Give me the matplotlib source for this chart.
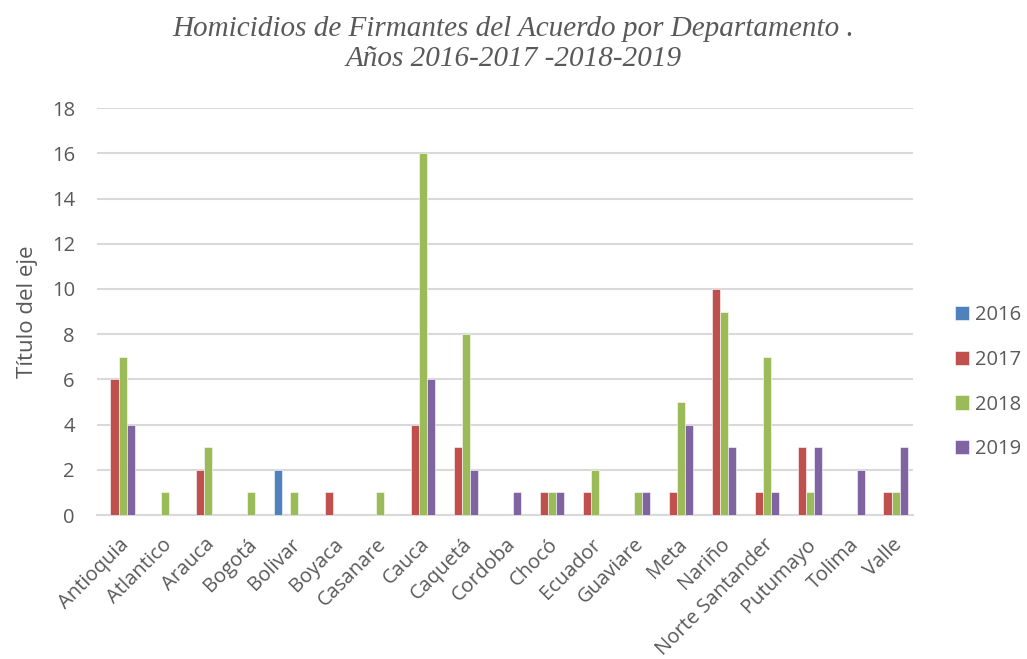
import numpy as np
import matplotlib.pyplot as plt

departamentos = ['Antioquia', 'Atlantico', 'Arauca', 'Bogotá', 'Bolivar', 'Boyaca',
                 'Casanare', 'Cauca', 'Caquetá', 'Cordoba', 'Chocó', 'Ecuador',
                 'Guaviare', 'Meta', 'Nariño', 'Norte Santander', 'Putumayo',
                 'Tolima', 'Valle']
y2016 = [0, 0, 0, 0, 2, 0, 0, 0, 0, 0, 0, 0, 0, 0, 0, 0, 0, 0, 0]
y2017 = [6, 0, 2, 0, 0, 1, 0, 4, 3, 0, 1, 1, 0, 1, 10, 1, 3, 0, 1]
y2018 = [7, 1, 3, 1, 1, 0, 1, 16, 8, 0, 1, 2, 1, 5, 9, 7, 1, 0, 1]
y2019 = [4, 0, 0, 0, 0, 0, 0, 6, 2, 1, 1, 0, 1, 4, 3, 1, 3, 2, 3]
anios = ['2016', '2017', '2018', '2019']
colores = ['#4F81BD', '#C0504D', '#9BBB59', '#8064A2']

plt.rcParams['font.family'] = ['Open Sans', 'DejaVu Sans']

fig = plt.figure(figsize=(10.27, 6.59), dpi=100)
ax = fig.add_axes([0.0945, 0.2185, 0.7945, 0.6175])

x = np.arange(len(departamentos))
w = 0.187
series = [y2016, y2017, y2018, y2019]
for i, (vals, c, lab) in enumerate(zip(series, colores, anios)):
    ax.bar(x + (i - 1.5) * w, vals, w, color=c, label=lab,
           edgecolor='white', linewidth=0.4, zorder=3)

ax.set_xlim(-0.5, len(departamentos) - 0.5)
ax.set_ylim(0, 18)
ax.set_yticks(range(0, 19, 2))
ax.yaxis.grid(True, color='#D9D9D9', linewidth=1.5, zorder=0)
for s in ['top', 'right', 'left']:
    ax.spines[s].set_visible(False)
ax.spines['bottom'].set_color('#D9D9D9')
ax.spines['bottom'].set_linewidth(1.5)
ax.tick_params(length=0, colors='#595959', labelsize=14.5)
ax.tick_params(axis='y', pad=16)
ax.tick_params(axis='x', pad=14)
ax.set_xticks(x)
ax.set_xticklabels(departamentos, rotation=45, ha='right', rotation_mode='anchor')
ax.set_ylabel('Título del eje', fontsize=16, color='#595959', labelpad=10)

fig.suptitle('Homicidios de Firmantes del Acuerdo por Departamento .\nAños 2016-2017 -2018-2019',
             family='Liberation Serif', style='italic', fontsize=21, color='#595959',
             y=0.975, linespacing=1.2)

ax.legend(loc='upper left', bbox_to_anchor=(955 / 1027, 1 - 305 / 659),
          bbox_transform=fig.transFigure, frameon=False, borderpad=0, borderaxespad=0,
          fontsize=14.5, labelcolor='#595959', handlelength=0.7, handleheight=0.7,
          labelspacing=1.23, handletextpad=0.3)

fig.savefig('out.png', dpi=100)
